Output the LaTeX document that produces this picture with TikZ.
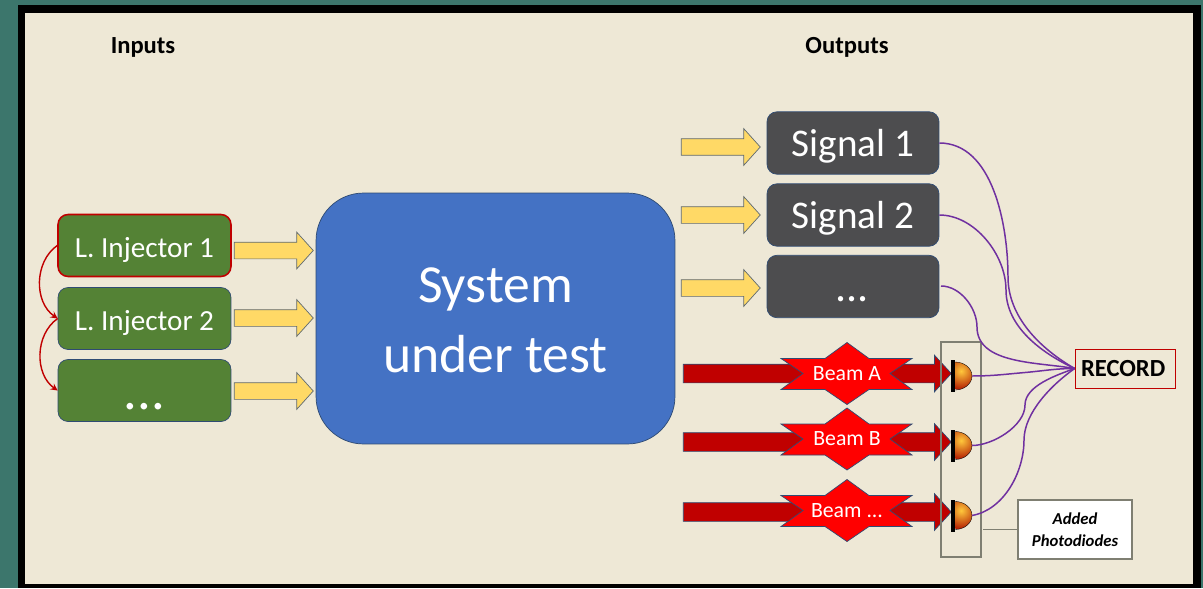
\documentclass[tikz,border=0pt]{standalone}
\usepackage{fontspec}
\setmainfont{Carlito}
\usetikzlibrary{shapes.arrows}
\definecolor{tealbg}{HTML}{3C766C}
\definecolor{paper}{HTML}{EEE8D6}
\definecolor{injgreen}{HTML}{548235}
\definecolor{sysblue}{HTML}{4472C4}
\definecolor{sigdark}{HTML}{4D4D4F}
\definecolor{arrowyellow}{HTML}{FFD966}
\definecolor{beamdark}{HTML}{C00000}
\definecolor{edgeblue}{HTML}{2F4B73}
\definecolor{wirepurple}{HTML}{7030A0}
\definecolor{boxgray}{HTML}{7F7F72}
\definecolor{domelight}{HTML}{FFC83C}
\definecolor{domedark}{HTML}{B01800}
\newcommand{\beamdots}{...}
\tikzset{
	injbox/.style={draw=edgeblue,fill=injgreen,rounded corners=0.2cm,minimum width=3.46cm,minimum height=1.24cm,inner sep=0,text=white,text height=13.6pt,text depth=0pt,font=\fontsize{16.6}{18}\selectfont},
	sigbox/.style={draw=edgeblue,fill=sigdark,rounded corners=0.2cm,minimum width=3.44cm,minimum height=1.25cm,inner sep=0,text=white,text height=15.3pt,text depth=0pt,font=\fontsize{22.3}{24}\selectfont},
	yellowarrow/.style={single arrow,draw=boxgray!60!edgeblue,fill=arrowyellow,inner sep=0,inner ysep=0.16cm,minimum height=1.58cm,single arrow head extend=0.2cm,single arrow tip angle=96},
	beamarrow/.style={single arrow,draw=edgeblue,fill=beamdark,inner sep=0,inner ysep=0.18cm,minimum height=5.36cm,single arrow head extend=0.18cm,single arrow tip angle=95},
	beamstar/.style={draw=edgeblue,fill=red},
	beamtext/.style={inner sep=0,text=white,font=\fontsize{12.4}{14}\selectfont},
	headtext/.style={inner sep=0,font=\fontsize{14}{15}\selectfont\bfseries},
	wire/.style={draw=wirepurple,line width=0.85pt},
}
\begin{document}
\begin{tikzpicture}[x=0.02cm,y=-0.02cm,>=stealth]
	\useasboundingbox (0,0) rectangle (1203,588);
	\fill[tealbg] (0,0) rectangle (1203,588);
	\fill[black] (18,5) rectangle (1201,588);
	\fill[paper] (25,13) rectangle (1193,584);

	\node[headtext] (inputs) at (143,47) {Inputs};
	\node[headtext] (outputs) at (847,47) {Outputs};

	\node[draw=edgeblue,fill=sysblue,rounded corners=0.95cm,minimum width=7.18cm,minimum height=5.02cm,inner sep=0] (system) at (495.5,318.5) {};
	\node[inner sep=0,text=white,align=center,font=\fontsize{30.5}{40}\selectfont] (systemText) at (495.5,320.5) {System\\under test};

	% inputs
	\node[injbox,draw=beamdark,line width=0.9pt] (injA) at (144.5,245.5) {L. Injector 1};
	\node[injbox] (injB) at (144.5,318.5) {L. Injector 2};
	\node[injbox] (injC) at (144.5,390.5) {};
	\node[text=white,inner sep=0,font=\fontsize{31}{34}\selectfont] (injDots) at (144.5,407) {...};
	\node[yellowarrow] (arrA) at (270,250.5) {};
	\node[yellowarrow] (arrB) at (270,318) {};
	\node[yellowarrow] (arrC) at (270,391) {};
	\draw[->,draw=beamdark,line width=0.8pt] (injA.west) to[bend right=55] (injB.west);
	\draw[->,draw=beamdark,line width=0.8pt] (injB.west) to[bend right=55] (injC.west);

	% outputs
	\node[sigbox] (sigA) at (853,143) {Signal 1};
	\node[sigbox] (sigB) at (853,215) {Signal 2};
	\node[sigbox] (sigC) at (853,286.5) {};
	\node[text=white,inner sep=0,font=\fontsize{25}{28}\selectfont] (sigDots) at (852,299) {...};
	\node[yellowarrow] (arrD) at (717,147) {};
	\node[yellowarrow] (arrE) at (717,215) {};
	\node[yellowarrow] (arrF) at (717,288) {};

	% beams and diodes
	\foreach \name/\ya/\yb/\yc/\txt in {A/373.5/373.5/376/Beam A,B/442/439/445.5/Beam B,C/512/510.5/515.5/Beam \beamdots}{
		\node[beamarrow] (beam\name) at (813,\ya) {};
		\draw[beamstar] (847,\yb-31) -- (869,\yb-15) -- (912,\yb-15) -- (890,\yb) -- (912,\yb+16) -- (869,\yb+16) -- (847,\yb+31) -- (825,\yb+16) -- (781,\yb+16) -- (803,\yb) -- (781,\yb-15) -- (825,\yb-15) -- cycle;
		\node[beamtext] (text\name) at (847,\yb) {\txt};
		\begin{scope}
			\clip (955,\yc-14) arc (-90:90:17 and 14) -- cycle;
			\shade[inner color=domelight,outer color=domedark] (961,\yc-5) circle (19);
		\end{scope}
		\draw[black,line width=0.2pt] (955,\yc-14) arc (-90:90:17 and 14);
		\fill[black] (951,\yc-16) rectangle (955,\yc+16);
		\coordinate (diode\name) at (972,\yc);
	}
	\node[draw=boxgray,line width=0.7pt,minimum width=0.8cm,minimum height=4.3cm,inner sep=0] (diodes) at (961,449.5) {};

	% record
	\node[draw=beamdark,inner sep=0,minimum width=2cm,minimum height=0.78cm,text width=1.76cm,align=left,font=\fontsize{14}{15}\selectfont\bfseries] (record) at (1125,368.5) {RECORD};
	\node[draw=boxgray,fill=white,line width=0.7pt,inner sep=0,minimum width=2.28cm,minimum height=1.18cm,align=center,font=\fontsize{9.5}{12.5}\selectfont\bfseries\itshape] (added) at (1075,529.5) {Added\\Photodiodes};
	\coordinate (addedEnd) at (983,529.5);
	\draw[boxgray,line width=0.7pt] (added.west) -- (addedEnd);

	\begin{scope}[every path/.style={wire}]
		\coordinate (sigEnd) at (941,286);
		\coordinate (midA) at (1008,277);
		\coordinate (midB) at (1006,290);
		\coordinate (midC) at (977,327);
		\coordinate (midF) at (1025,372.5);
		\coordinate (midD) at (1025,405);
		\coordinate (midE) at (1024,440);
		\path (sigA.east) to[out=0,in=90,looseness=0.9] (midA) to[out=-90,in=150,looseness=0.9] (record.west);
		\path (sigB.east) to[out=0,in=90,looseness=0.9] (midB) to[out=-90,in=155,looseness=0.9] (record.west);
		\path (sigEnd) to[out=0,in=90,looseness=0.9] (midC) to[out=-90,in=170,looseness=0.9] (record.west);
		\path (diodeA) to[out=0,in=185] (midF) to[out=5,in=180] (record.west);
		\path (diodeB) to[out=0,in=-90,looseness=0.8] (midD) to[out=90,in=200,looseness=0.8] (record.west);
		\path (diodeC) to[out=10,in=-90,looseness=0.9] (midE) to[out=90,in=215,looseness=0.8] (record.west);
	\end{scope}
\end{tikzpicture}
\end{document}
